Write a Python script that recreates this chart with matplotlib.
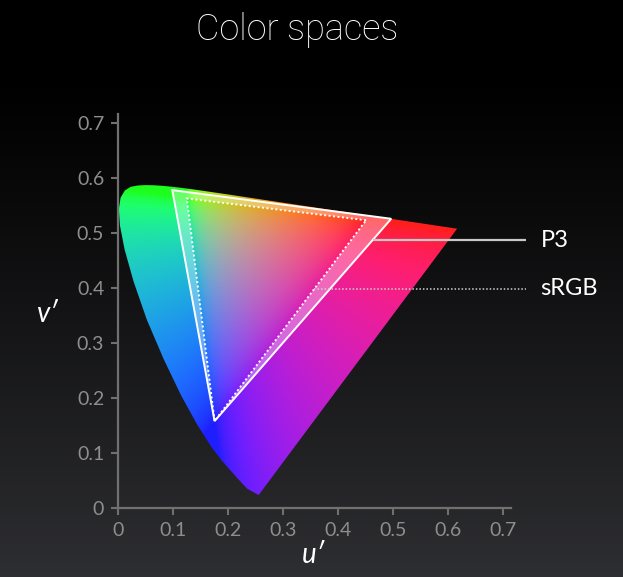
import numpy as np
import matplotlib
matplotlib.use("Agg")
import matplotlib.pyplot as plt
from matplotlib.patches import Polygon, PathPatch
from matplotlib.path import Path

# ---------------- data (CIE 1976 u'v') ----------------
locus_u = [0.2555, 0.2347, 0.2161, 0.1877, 0.1690, 0.1441, 0.1147, 0.0828, 0.0521,
           0.0282, 0.0119, 0.0035, 0.0014, 0.0046, 0.0123, 0.0231, 0.0360, 0.0501,
           0.0643, 0.0792, 0.0953, 0.1127, 0.1319, 0.1531, 0.2026, 0.2623, 0.3315,
           0.4035, 0.4692, 0.5203, 0.5565, 0.5830, 0.6005, 0.6162]
locus_v = [0.0236, 0.0350, 0.0549, 0.0871, 0.1119, 0.1510, 0.2044, 0.2708, 0.3427,
           0.4117, 0.4698, 0.5131, 0.5431, 0.5638, 0.5770, 0.5837, 0.5861, 0.5868,
           0.5865, 0.5856, 0.5841, 0.5821, 0.5796, 0.5766, 0.5694, 0.5604, 0.5501,
           0.5393, 0.5296, 0.5219, 0.5165, 0.5125, 0.5099, 0.5076]

p3_u = [0.4964, 0.0986, 0.1754]      # R, G, B
p3_v = [0.5256, 0.5777, 0.1579]
srgb_u = [0.4507, 0.1250, 0.1754]
srgb_v = [0.5229, 0.5625, 0.1579]

gamut_names = ["P3", "sRGB"]
label_v = [0.487, 0.398]

ticks = [0, 0.1, 0.2, 0.3, 0.4, 0.5, 0.6, 0.7]
tick_labels = ["0", "0.1", "0.2", "0.3", "0.4", "0.5", "0.6", "0.7"]

title = "Color spaces"
xlabel = "u\u2032"
ylabel = "v\u2032"

# ---------------- figure ----------------
W, H = 623, 577
fig = plt.figure(figsize=(W / 100, H / 100), dpi=100)
FONT = ["Lato", "DejaVu Sans"]
TFONT = ["Roboto", "DejaVu Sans"]

# background gradient
bg = fig.add_axes([0, 0, 1, 1], zorder=-10)
t = np.linspace(0, 1, 400)[:, None]
val = 0.18 * np.clip((t - 0.12) / 0.88, 0, 1) ** 1.15
grad = np.dstack([val, val * 1.01, val * 1.09])
bg.imshow(grad, aspect="auto", extent=[0, 1, 0, 1], origin="upper")
bg.set_axis_off()

x0, x1 = 117, 512
y0, y1 = 508, 114
ax = fig.add_axes([x0 / W, 1 - y0 / H, (x1 - x0) / W, (y0 - y1) / H])
ax.set_facecolor("none")
ax.set_xlim(0, 0.714)
ax.set_ylim(0, 0.716)

# chromaticity colors
N = 700
uu, vv = np.meshgrid(np.linspace(0, 0.72, N), np.linspace(0, 0.72, N))
den = 6 * uu - 16 * vv + 12
xx = 9 * uu / den
yy = 4 * vv / den
yy = np.maximum(yy, 1e-4)
X = xx / yy
Y = np.ones_like(X)
Z = (1 - xx - yy) / yy
M = np.array([[3.2406, -1.5372, -0.4986],
              [-0.9689, 1.8758, 0.0415],
              [0.0557, -0.2040, 1.0570]])
rgb = np.einsum("ij,jkl->kli", M, np.stack([X, Y, Z]))
rgb = np.clip(rgb, 0, None)
s = rgb.sum(axis=2, keepdims=True)
s[s == 0] = 1
rgb = rgb / s
rgb = np.clip(1.12 * (rgb + 0.012), 0, 1)
rgb = np.where(rgb <= 0.0031308, 12.92 * rgb, 1.055 * rgb ** (1 / 2.4) - 0.055)

locus = Polygon(np.column_stack([locus_u, locus_v]), closed=True,
                facecolor="none", edgecolor="none", transform=ax.transData)
ax.add_patch(locus)
im = ax.imshow(rgb, origin="lower", extent=[0, 0.72, 0, 0.72],
               interpolation="bilinear", zorder=1)
im.set_clip_path(locus)

# band between P3 and sRGB
verts = [(u, v) for u, v in zip(p3_u, p3_v)] + [(p3_u[0], p3_v[0])]
verts += [(u, v) for u, v in zip(srgb_u[::-1], srgb_v[::-1])] + [(srgb_u[-1], srgb_v[-1])]
codes = [Path.MOVETO, Path.LINETO, Path.LINETO, Path.CLOSEPOLY] * 2
band = PathPatch(Path(verts, codes), facecolor="white", alpha=0.33,
                 edgecolor="none", zorder=2)
ax.add_patch(band)

# triangle outlines
ax.add_patch(Polygon(np.column_stack([p3_u, p3_v]), closed=True, fill=False,
                     edgecolor="white", lw=1.4, zorder=3, joinstyle="miter"))
ax.add_patch(Polygon(np.column_stack([srgb_u, srgb_v]), closed=True, fill=False,
                     edgecolor="white", lw=1.4, ls=(0, (1, 1.3)), zorder=3))

# leader lines and labels
def edge_u(us, vs, v):
    # intersection of the R-B edge with a horizontal line at v
    tt = (v - vs[2]) / (vs[0] - vs[2])
    return us[2] + tt * (us[0] - us[2])

line_end = 0.741
text_u = 0.768
ax.plot([edge_u(p3_u, p3_v, label_v[0]), line_end], [label_v[0]] * 2,
        color="#c8c8c8", lw=1.6, clip_on=False, zorder=4, solid_capstyle="butt")
ax.plot([edge_u(srgb_u, srgb_v, label_v[1]), line_end], [label_v[1]] * 2,
        color="#d0d0d0", lw=1.1, ls=(0, (1, 1.3)), clip_on=False, zorder=4)
for name, v in zip(gamut_names, label_v):
    ax.text(text_u, v, name, color="white", fontsize=17, va="center", ha="left",
            family=FONT, fontweight="normal", clip_on=False)

# axes styling
for sp in ["top", "right"]:
    ax.spines[sp].set_visible(False)
for sp in ["left", "bottom"]:
    ax.spines[sp].set_color("#707070")
    ax.spines[sp].set_linewidth(1.6)
ax.set_xticks(ticks)
ax.set_xticklabels(tick_labels)
ax.set_yticks(ticks)
ax.set_yticklabels(tick_labels)
ax.tick_params(colors="#707070", length=5, width=1.5, labelcolor="#8e8e8e",
               labelsize=14, pad=5)
for lab in ax.get_xticklabels() + ax.get_yticklabels():
    lab.set_family(FONT)
    lab.set_fontweight("normal")

fig.text(297 / W, 1 - 30 / H, title, color="white", fontsize=26, ha="center",
         va="center", family=TFONT, fontweight="light")
fig.text(313 / W, 1 - 555 / H, xlabel, color="white", fontsize=20, ha="center",
         va="center", family=FONT, style="italic", fontweight="normal")
fig.text(47 / W, 1 - 314 / H, ylabel, color="white", fontsize=20, ha="center",
         va="center", family=FONT, style="italic", fontweight="normal")

fig.savefig("out.png", dpi=100, facecolor="black")
